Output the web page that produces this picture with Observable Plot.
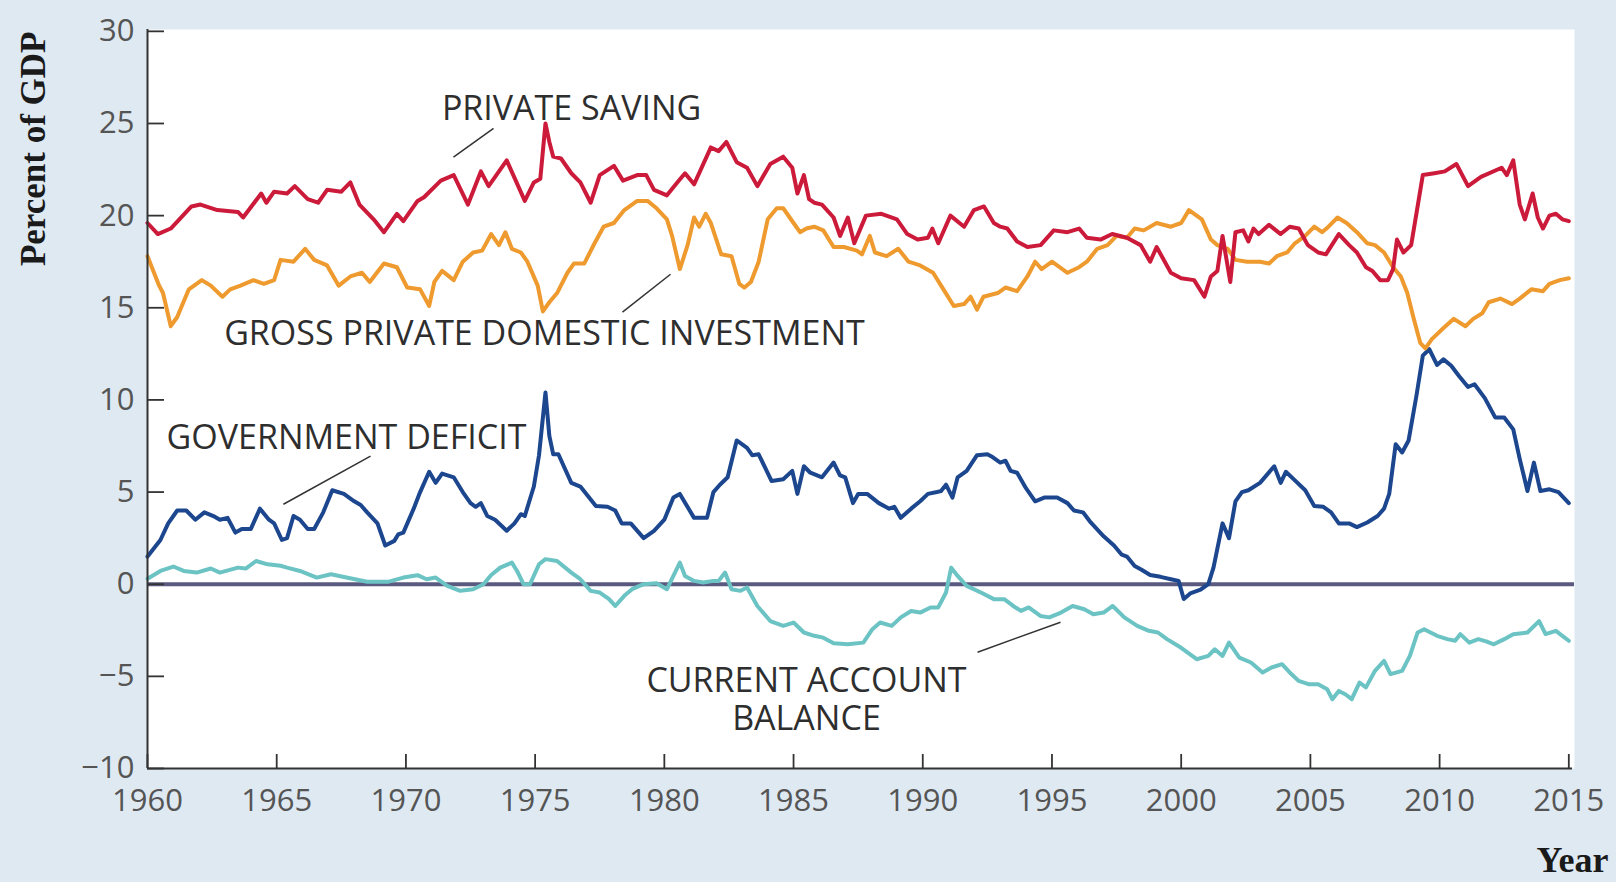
<!DOCTYPE html>
<html>
<head>
<meta charset="utf-8">
<script src="https://cdn.jsdelivr.net/npm/d3@7"></script>
<script src="https://cdn.jsdelivr.net/npm/@observablehq/plot@0.6"></script>
<style>
  html, body { margin: 0; padding: 0; background: #dfe9f2; }
  #chart svg { display: block; }
</style>
</head>
<body>
<div id="chart"></div>
<script>
// ---- Tick labels ----
const yearTicks = [1960, 1965, 1970, 1975, 1980, 1985, 1990, 1995, 2000, 2005, 2010, 2015];
const percentTicks = [-10, -5, 0, 5, 10, 15, 20, 25, 30];

// ---- Series: [year, percent of GDP] ----
const privateSaving = [
  [1960.0,19.6],[1960.4,19.0],[1960.9,19.3],[1961.7,20.5],[1962.05,20.6],[1962.7,20.3],[1963.5,20.2],[1963.7,19.9],
  [1964.4,21.2],[1964.6,20.7],[1964.9,21.3],[1965.4,21.2],[1965.7,21.6],[1966.2,20.9],[1966.6,20.7],[1966.95,21.4],
  [1967.5,21.3],[1967.85,21.8],[1968.2,20.6],[1968.75,19.8],[1969.15,19.1],[1969.65,20.1],[1969.9,19.7],[1970.45,20.8],
  [1970.7,21.0],[1971.35,21.9],[1971.85,22.2],[1972.4,20.6],[1972.9,22.4],[1973.2,21.6],[1973.9,23.0],[1974.6,20.8],
  [1974.95,21.8],[1975.2,22.0],[1975.4,25.0],[1975.55,24.0],[1975.7,23.2],[1976.0,23.1],[1976.4,22.3],[1976.75,21.8],
  [1977.15,20.7],[1977.5,22.2],[1978.05,22.7],[1978.4,21.9],[1978.95,22.2],[1979.3,22.2],[1979.6,21.4],[1980.1,21.1],
  [1980.5,21.8],[1980.8,22.3],[1981.15,21.7],[1981.8,23.7],[1982.1,23.5],[1982.4,24.0],[1982.8,22.9],[1983.2,22.6],
  [1983.6,21.6],[1984.1,22.8],[1984.6,23.2],[1984.95,22.6],[1985.15,21.2],[1985.4,22.2],[1985.6,20.9],[1985.8,20.7],
  [1986.1,20.6],[1986.55,19.9],[1986.8,18.9],[1987.1,19.9],[1987.35,18.5],[1987.8,20.0],[1988.4,20.1],[1989.0,19.8],
  [1989.4,19.0],[1989.8,18.7],[1990.2,18.8],[1990.37,19.3],[1990.6,18.5],[1991.07,20.0],[1991.6,19.4],[1991.98,20.3],
  [1992.37,20.5],[1992.75,19.6],[1993.0,19.4],[1993.27,19.3],[1993.65,18.6],[1994.05,18.3],[1994.56,18.4],[1995.07,19.2],
  [1995.6,19.1],[1996.05,19.3],[1996.35,18.8],[1996.88,18.7],[1997.33,19.0],[1997.9,18.8],[1998.43,18.4],[1998.8,17.5],
  [1999.05,18.3],[1999.6,16.9],[2000.0,16.6],[2000.5,16.5],[2000.9,15.6],[2001.15,16.7],[2001.4,17.0],[2001.6,18.9],
  [2001.9,16.4],[2002.1,19.1],[2002.4,19.2],[2002.6,18.6],[2002.8,19.3],[2003.0,19.0],[2003.4,19.5],[2003.85,19.0],
  [2004.2,19.4],[2004.55,19.3],[2004.9,18.4],[2005.3,18.0],[2005.6,17.9],[2006.1,19.0],[2006.5,18.4],[2006.8,18.0],
  [2007.15,17.2],[2007.4,17.0],[2007.7,16.5],[2008.0,16.5],[2008.2,17.1],[2008.35,18.7],[2008.6,18.0],[2008.9,18.4],
  [2009.35,22.2],[2009.8,22.3],[2010.2,22.4],[2010.65,22.8],[2011.1,21.6],[2011.6,22.1],[2012.4,22.6],[2012.6,22.2],
  [2012.85,23.0],[2013.1,20.6],[2013.3,19.8],[2013.6,21.2],[2013.8,19.9],[2014.0,19.3],[2014.25,20.0],[2014.5,20.1],
  [2014.75,19.8],[2015.0,19.7]
];

const grossInvestment = [
  [1960.0,17.8],[1960.45,16.2],[1960.6,15.8],[1960.9,14.0],[1961.15,14.5],[1961.6,16.0],[1962.1,16.5],[1962.45,16.2],
  [1962.9,15.6],[1963.2,16.0],[1963.6,16.2],[1964.1,16.5],[1964.5,16.3],[1964.9,16.5],[1965.15,17.6],[1965.65,17.5],
  [1966.1,18.2],[1966.45,17.6],[1966.95,17.3],[1967.4,16.2],[1967.85,16.7],[1968.3,16.9],[1968.6,16.4],[1969.15,17.4],
  [1969.65,17.2],[1970.05,16.1],[1970.55,16.0],[1970.9,15.1],[1971.1,16.4],[1971.4,17.0],[1971.85,16.5],[1972.2,17.5],
  [1972.6,18.0],[1972.95,18.1],[1973.3,19.0],[1973.6,18.4],[1973.85,19.1],[1974.1,18.2],[1974.45,18.0],[1974.7,17.5],
  [1975.1,16.2],[1975.3,14.8],[1975.55,15.3],[1975.85,15.8],[1976.25,16.9],[1976.5,17.4],[1976.9,17.4],[1977.3,18.5],
  [1977.65,19.4],[1978.05,19.6],[1978.45,20.3],[1978.95,20.8],[1979.35,20.8],[1979.7,20.4],[1980.1,19.8],[1980.3,18.9],
  [1980.6,17.1],[1980.9,18.4],[1981.15,19.9],[1981.35,19.4],[1981.6,20.1],[1981.8,19.6],[1982.2,17.9],[1982.6,17.8],
  [1982.9,16.3],[1983.1,16.1],[1983.35,16.4],[1983.65,17.5],[1984.0,19.8],[1984.35,20.4],[1984.6,20.4],[1985.0,19.6],
  [1985.25,19.1],[1985.5,19.3],[1985.8,19.4],[1986.15,19.2],[1986.55,18.3],[1986.95,18.3],[1987.45,18.1],[1987.65,17.9],
  [1987.95,18.9],[1988.15,18.0],[1988.6,17.8],[1989.05,18.2],[1989.45,17.5],[1989.9,17.3],[1990.4,16.9],[1990.8,16.0],
  [1991.2,15.1],[1991.6,15.2],[1991.85,15.6],[1992.1,14.9],[1992.35,15.6],[1992.9,15.8],[1993.2,16.1],[1993.65,15.9],
  [1994.05,16.7],[1994.35,17.5],[1994.6,17.1],[1995.0,17.5],[1995.6,16.9],[1996.05,17.2],[1996.35,17.5],[1996.75,18.2],
  [1997.15,18.4],[1997.5,18.9],[1997.9,18.8],[1998.2,19.3],[1998.55,19.2],[1999.05,19.6],[1999.6,19.4],[2000.0,19.6],
  [2000.3,20.3],[2000.8,19.8],[2001.15,18.7],[2001.4,18.4],[2001.8,18.2],[2002.1,17.6],[2002.55,17.5],[2003.05,17.5],
  [2003.4,17.4],[2003.7,17.8],[2004.1,18.0],[2004.4,18.5],[2004.8,18.9],[2005.15,19.4],[2005.45,19.1],[2005.7,19.4],
  [2006.05,19.9],[2006.4,19.6],[2006.8,19.1],[2007.2,18.5],[2007.5,18.4],[2007.85,18.0],[2008.2,17.2],[2008.5,16.7],
  [2008.75,15.8],[2009.0,14.4],[2009.25,13.1],[2009.45,12.8],[2009.7,13.3],[2010.15,13.9],[2010.55,14.4],[2011.0,14.0],
  [2011.3,14.4],[2011.65,14.7],[2011.9,15.3],[2012.35,15.5],[2012.8,15.2],[2013.1,15.5],[2013.55,16.0],[2014.0,15.9],
  [2014.25,16.3],[2014.65,16.5],[2015.0,16.6]
];

const governmentDeficit = [
  [1960.0,1.5],[1960.5,2.4],[1960.8,3.3],[1961.15,4.0],[1961.5,4.0],[1961.85,3.5],[1962.2,3.9],[1962.55,3.7],
  [1962.8,3.5],[1963.1,3.6],[1963.4,2.8],[1963.65,3.0],[1964.0,3.0],[1964.35,4.1],[1964.7,3.5],[1964.9,3.3],
  [1965.2,2.4],[1965.4,2.5],[1965.65,3.7],[1965.9,3.5],[1966.2,3.0],[1966.45,3.0],[1966.8,3.9],[1967.15,5.1],
  [1967.6,4.9],[1968.0,4.5],[1968.25,4.3],[1968.5,3.9],[1968.9,3.3],[1969.2,2.1],[1969.55,2.35],[1969.7,2.7],
  [1969.9,2.8],[1970.3,4.1],[1970.55,5.0],[1970.9,6.1],[1971.15,5.5],[1971.4,6.0],[1971.85,5.8],[1972.2,5.0],
  [1972.5,4.4],[1972.7,4.2],[1972.9,4.4],[1973.15,3.7],[1973.45,3.5],[1973.9,2.9],[1974.2,3.3],[1974.45,3.8],
  [1974.6,3.7],[1974.95,5.3],[1975.15,7.0],[1975.4,10.4],[1975.55,8.05],[1975.7,7.05],[1975.9,7.05],[1976.4,5.5],
  [1976.75,5.3],[1977.35,4.25],[1977.8,4.2],[1978.1,4.0],[1978.35,3.3],[1978.7,3.3],[1979.2,2.5],[1979.6,2.9],
  [1980.0,3.5],[1980.35,4.7],[1980.6,4.9],[1981.15,3.6],[1981.65,3.6],[1981.9,5.0],[1982.15,5.4],[1982.45,5.8],
  [1982.8,7.8],[1983.2,7.4],[1983.4,7.0],[1983.65,7.05],[1984.15,5.6],[1984.6,5.7],[1984.95,6.15],[1985.15,4.9],
  [1985.4,6.4],[1985.65,6.05],[1986.1,5.8],[1986.55,6.6],[1986.8,5.9],[1987.0,5.8],[1987.3,4.4],[1987.5,4.9],
  [1987.85,4.9],[1988.3,4.4],[1988.7,4.1],[1988.9,4.2],[1989.15,3.6],[1989.55,4.1],[1989.9,4.5],[1990.2,4.9],
  [1990.55,5.0],[1990.7,5.05],[1990.9,5.4],[1991.15,4.7],[1991.35,5.8],[1991.7,6.15],[1992.1,7.0],[1992.5,7.05],
  [1992.7,6.9],[1993.0,6.6],[1993.2,6.7],[1993.4,6.15],[1993.65,6.05],[1994.0,5.2],[1994.35,4.5],[1994.7,4.7],
  [1995.2,4.7],[1995.6,4.4],[1995.85,4.0],[1996.2,3.9],[1996.5,3.35],[1997.0,2.6],[1997.4,2.1],[1997.7,1.6],
  [1997.9,1.5],[1998.2,0.99],[1998.45,0.8],[1998.8,0.5],[1999.2,0.4],[1999.6,0.27],[1999.9,0.18],[2000.1,-0.8],
  [2000.35,-0.5],[2000.75,-0.3],[2001.05,0.0],[2001.25,0.9],[2001.6,3.3],[2001.85,2.5],[2002.1,4.5],[2002.35,5.0],
  [2002.6,5.1],[2003.05,5.5],[2003.6,6.4],[2003.85,5.5],[2004.05,6.1],[2004.35,5.7],[2004.8,5.1],[2005.15,4.25],
  [2005.5,4.2],[2005.8,3.9],[2006.1,3.3],[2006.5,3.3],[2006.8,3.1],[2007.2,3.35],[2007.6,3.7],[2007.85,4.1],
  [2008.05,4.9],[2008.3,7.6],[2008.55,7.15],[2008.8,7.8],[2009.1,10.2],[2009.35,12.4],[2009.6,12.75],[2009.9,11.9],
  [2010.15,12.2],[2010.45,11.85],[2010.75,11.3],[2011.1,10.7],[2011.35,10.85],[2011.75,10.1],[2012.15,9.05],[2012.5,9.05],
  [2012.85,8.4],[2013.1,6.8],[2013.4,5.06],[2013.65,6.6],[2013.9,5.06],[2014.25,5.15],[2014.6,5.0],[2015.0,4.4]
];

const currentAccount = [
  [1960.0,0.3],[1960.5,0.72],[1961.0,0.96],[1961.4,0.72],[1961.9,0.63],[1962.45,0.85],[1962.8,0.63],[1963.5,0.9],
  [1963.8,0.85],[1964.2,1.26],[1964.65,1.08],[1965.15,1.0],[1965.4,0.9],[1965.9,0.72],[1966.55,0.36],[1967.1,0.54],
  [1967.7,0.36],[1968.5,0.13],[1969.3,0.13],[1969.9,0.36],[1970.45,0.49],[1970.8,0.27],[1971.15,0.36],[1971.6,-0.09],
  [1972.1,-0.36],[1972.6,-0.27],[1973.0,0.0],[1973.3,0.5],[1973.65,0.9],[1974.1,1.17],[1974.3,0.72],[1974.55,0.0],
  [1974.8,0.0],[1975.15,1.08],[1975.4,1.36],[1975.85,1.26],[1976.4,0.63],[1976.75,0.27],[1977.15,-0.36],[1977.5,-0.45],
  [1977.85,-0.8],[1978.1,-1.18],[1978.45,-0.63],[1978.75,-0.27],[1979.2,0.0],[1979.7,0.05],[1980.1,-0.27],[1980.35,0.45],
  [1980.6,1.17],[1980.8,0.45],[1981.15,0.18],[1981.5,0.09],[1981.9,0.18],[1982.1,0.18],[1982.35,0.63],[1982.6,-0.27],
  [1982.95,-0.36],[1983.2,-0.18],[1983.6,-1.18],[1984.1,-2.0],[1984.6,-2.26],[1985.0,-2.08],[1985.4,-2.62],[1985.8,-2.8],
  [1986.15,-2.9],[1986.55,-3.2],[1987.1,-3.26],[1987.7,-3.17],[1988.05,-2.44],[1988.35,-2.08],[1988.8,-2.26],[1989.15,-1.8],
  [1989.55,-1.45],[1989.9,-1.54],[1990.3,-1.26],[1990.6,-1.26],[1990.9,-0.45],[1991.1,0.9],[1991.35,0.45],[1991.7,-0.09],
  [1992.25,-0.45],[1992.75,-0.81],[1993.15,-0.81],[1993.5,-1.18],[1993.8,-1.45],[1994.1,-1.26],[1994.55,-1.72],[1994.9,-1.8],
  [1995.35,-1.54],[1995.8,-1.18],[1996.25,-1.36],[1996.6,-1.63],[1997.0,-1.54],[1997.35,-1.18],[1997.8,-1.8],[1998.3,-2.26],
  [1998.75,-2.53],[1999.1,-2.62],[1999.45,-2.98],[2000.0,-3.45],[2000.6,-4.07],[2001.05,-3.89],[2001.3,-3.53],[2001.6,-3.89],
  [2001.85,-3.17],[2002.25,-3.98],[2002.7,-4.25],[2003.15,-4.79],[2003.5,-4.52],[2003.9,-4.34],[2004.2,-4.79],[2004.55,-5.25],
  [2004.95,-5.43],[2005.3,-5.43],[2005.65,-5.7],[2005.85,-6.24],[2006.1,-5.79],[2006.35,-5.97],[2006.6,-6.24],[2006.9,-5.34],
  [2007.15,-5.6],[2007.5,-4.7],[2007.85,-4.16],[2008.1,-4.88],[2008.55,-4.7],[2008.85,-3.89],[2009.15,-2.62],[2009.4,-2.44],
  [2009.9,-2.8],[2010.3,-2.98],[2010.6,-3.07],[2010.8,-2.71],[2011.15,-3.17],[2011.5,-2.98],[2011.8,-3.1],[2012.1,-3.26],
  [2012.5,-2.98],[2012.85,-2.71],[2013.4,-2.62],[2013.85,-2.0],[2014.1,-2.71],[2014.5,-2.53],[2014.75,-2.8],[2015.0,-3.07]
];

// ---- Annotations (data coordinates) ----
const seriesLabels = [
  {text: "PRIVATE SAVING", year: 1976.41, value: 25.87},
  {text: "GROSS PRIVATE DOMESTIC INVESTMENT", year: 1975.36, value: 13.65},
  {text: "GOVERNMENT DEFICIT", year: 1967.70, value: 8.0},
  {text: "CURRENT ACCOUNT\nBALANCE", year: 1985.5, value: -6.2}
];
const leaderLines = [
  {x1: 1971.84, y1: 23.17, x2: 1973.39, y2: 24.74},
  {x1: 1978.38, y1: 14.76, x2: 1980.24, y2: 16.82},
  {x1: 1965.26, y1: 4.34, x2: 1968.63, y2: 6.95},
  {x1: 1992.12, y1: -3.69, x2: 1995.33, y2: -2.06}
];

const fmtNum = d => (d < 0 ? "\u2212" + Math.abs(d) : String(d));
const X = d => d[0], Y = d => d[1];

const chart = Plot.plot({
  width: 1616,
  height: 882,
  marginLeft: 147,
  marginRight: 42,
  marginTop: 29,
  marginBottom: 114,
  style: {background: "#dfe9f2", fontFamily: "'Open Sans', sans-serif", overflow: "visible"},
  x: {domain: [1960, 2015.22]},
  y: {domain: [-10, 30.1]},
  marks: [
    Plot.frame({fill: "white", stroke: null}),
    Plot.ruleY([0], {stroke: "#5a5a80", strokeWidth: 4}),
    Plot.line(currentAccount, {x: X, y: Y, stroke: "#6cc3c4", strokeWidth: 4}),
    Plot.line(governmentDeficit, {x: X, y: Y, stroke: "#1c468e", strokeWidth: 4}),
    Plot.line(grossInvestment, {x: X, y: Y, stroke: "#ee9a2e", strokeWidth: 4}),
    Plot.line(privateSaving, {x: X, y: Y, stroke: "#cc1a3a", strokeWidth: 4}),
    Plot.link(leaderLines, {x1: "x1", y1: "y1", x2: "x2", y2: "y2", stroke: "#333", strokeWidth: 1.5}),
    Plot.text(seriesLabels, {x: "year", y: "value", text: "text", fontSize: 34, lineHeight: 1.13, fill: "#2e2e2e", textAnchor: "middle", lineAnchor: "middle"}),
    Plot.ruleX([1960], {stroke: "#333", strokeWidth: 2}),
    Plot.ruleY([-10], {stroke: "#333", strokeWidth: 2, insetRight: 2}),
    Plot.axisY({ticks: percentTicks, tickFormat: fmtNum, tickSize: -17, tickPadding: 30, stroke: "#333", strokeWidth: 1.8, fill: "#555", fontSize: 31, label: null}),
    Plot.axisX({ticks: yearTicks, tickFormat: d => String(d), tickSize: -14, tickPadding: 34, stroke: "#333", strokeWidth: 1.8, fill: "#555", fontSize: 31, label: null}),
    Plot.text(["Percent of GDP"], {frameAnchor: "top-left", text: d => d, rotate: -90, textAnchor: "end", lineAnchor: "middle", dx: -114, dy: 2, fontSize: 35, fontWeight: "bold", fontFamily: "'Liberation Serif', serif", fill: "#1a1a1a"}),
    Plot.text(["Year"], {frameAnchor: "bottom-right", text: d => d, textAnchor: "end", lineAnchor: "middle", dx: 34, dy: 92, fontSize: 36, fontWeight: "bold", fontFamily: "'Liberation Serif', serif", fill: "#1a1a1a"})
  ]
});

document.getElementById("chart").appendChild(chart);
</script>
</body>
</html>
